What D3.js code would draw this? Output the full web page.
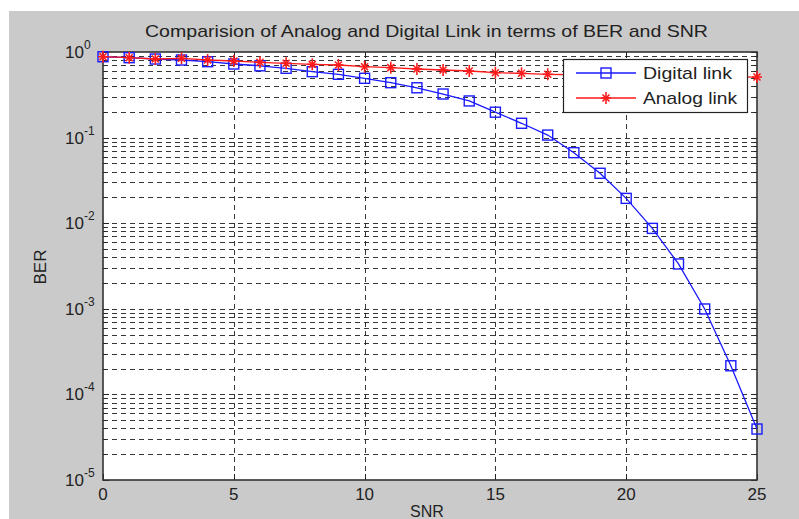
<!DOCTYPE html>
<html>
<head>
<meta charset="utf-8">
<script src="https://cdn.jsdelivr.net/npm/d3@7"></script>
<style>
  html, body { margin: 0; padding: 0; background: #ffffff; }
  svg { display: block; font-family: "Liberation Sans", Arial, Helvetica, sans-serif; }
</style>
</head>
<body>
<svg id="chart" width="799" height="519"></svg>
<script>
// SNR values on the x axis
const snr = d3.range(0, 26);

// Bit error rate for the digital link
const digitalBER = [0.88, 0.858, 0.828, 0.806, 0.77, 0.724, 0.69, 0.645, 0.589, 0.549,
  0.493, 0.438, 0.382, 0.323, 0.268, 0.198, 0.147, 0.107, 0.0667, 0.0383,
  0.0195, 0.0087, 0.00334, 0.000995, 0.000216, 0.0000394];

// Bit error rate for the analog link
const analogBER = [0.881, 0.858, 0.828, 0.844, 0.806, 0.785, 0.758, 0.738, 0.718, 0.705,
  0.673, 0.656, 0.633, 0.616, 0.600, 0.573, 0.564, 0.549, 0.542, 0.536,
  0.530, 0.525, 0.520, 0.516, 0.513, 0.51];

const xTicks = [0, 5, 10, 15, 20, 25];
const yExponents = [0, -1, -2, -3, -4, -5];
const seriesNames = ["Digital link", "Analog link"];

const titleText = "Comparision of Analog and Digital Link in terms of BER and SNR";

const svg = d3.select("#chart");

// figure background
svg.append("rect").attr("x", 9).attr("y", 11).attr("width", 790).attr("height", 508)
  .attr("fill", "#cacaca");

const plot = { left: 103, right: 757, top: 52, bottom: 480 };

const x = d3.scaleLinear().domain([0, 25]).range([plot.left, plot.right]);
const y = d3.scaleLog().domain([1e-5, 1]).range([plot.bottom, plot.top]);

// axes area
svg.append("rect")
  .attr("x", plot.left).attr("y", plot.top)
  .attr("width", plot.right - plot.left).attr("height", plot.bottom - plot.top)
  .attr("fill", "#ffffff");

const gridColor = "#222222";
const dash = "5,4";

// horizontal grid: major and minor decades
const yGridVals = [];
for (let e = -5; e < 0; e++) {
  for (let m = 1; m <= 9; m++) yGridVals.push(m * Math.pow(10, e));
}
yGridVals.push(1);

const grid = svg.append("g");
grid.selectAll("line.h").data(yGridVals.filter(v => v > 1e-5 && v < 1)).join("line")
  .attr("class", "h")
  .attr("x1", plot.left).attr("x2", plot.right)
  .attr("y1", d => Math.round(y(d)) + 0.5).attr("y2", d => Math.round(y(d)) + 0.5)
  .attr("stroke", gridColor).attr("stroke-width", 1).attr("stroke-dasharray", dash)
  .attr("opacity", 0.9);

// vertical grid at the major x ticks
grid.selectAll("line.v").data(xTicks.filter(t => t > 0 && t < 25)).join("line")
  .attr("class", "v")
  .attr("x1", d => Math.round(x(d)) + 0.5).attr("x2", d => Math.round(x(d)) + 0.5)
  .attr("y1", plot.top).attr("y2", plot.bottom)
  .attr("stroke", gridColor).attr("stroke-width", 1).attr("stroke-dasharray", dash)
  .attr("opacity", 0.9);

// inner tick marks on all four sides
const ticks = svg.append("g").attr("stroke", "#222").attr("stroke-width", 1);
xTicks.forEach(t => {
  const px = Math.round(x(t)) + 0.5;
  ticks.append("line").attr("x1", px).attr("x2", px).attr("y1", plot.bottom).attr("y2", plot.bottom - 6);
  ticks.append("line").attr("x1", px).attr("x2", px).attr("y1", plot.top).attr("y2", plot.top + 6);
});
yGridVals.forEach(v => {
  const py = Math.round(y(v)) + 0.5;
  const major = Math.abs(Math.log10(v) - Math.round(Math.log10(v))) < 1e-9;
  const len = major ? 6 : 3;
  ticks.append("line").attr("x1", plot.left).attr("x2", plot.left + len).attr("y1", py).attr("y2", py);
  ticks.append("line").attr("x1", plot.right).attr("x2", plot.right - len).attr("y1", py).attr("y2", py);
});

// axes frame
svg.append("rect")
  .attr("x", plot.left).attr("y", plot.top)
  .attr("width", plot.right - plot.left).attr("height", plot.bottom - plot.top)
  .attr("fill", "none").attr("stroke", "#333").attr("stroke-width", 1.6);

// x tick labels
svg.append("g").selectAll("text").data(xTicks).join("text")
  .attr("x", d => x(d)).attr("y", 500)
  .attr("text-anchor", "middle").attr("font-size", 17).attr("fill", "#222")
  .text(d => d);

// y tick labels as powers of ten
const yLab = svg.append("g").attr("fill", "#222");
yExponents.forEach(e => {
  const py = y(Math.pow(10, e));
  yLab.append("text").attr("x", 84).attr("y", py + 6).attr("font-size", 17)
    .attr("text-anchor", "end").text("10");
  yLab.append("text").attr("x", 84).attr("y", py - 3)
    .attr("font-size", 12).text(String(e));
});

// axis titles
svg.append("text").attr("x", 427).attr("y", 517).attr("text-anchor", "middle")
  .attr("font-size", 16).attr("fill", "#222").text("SNR");
svg.append("text").attr("transform", "translate(46,267) rotate(-90)")
  .attr("text-anchor", "middle").attr("font-size", 17).attr("fill", "#222").text("BER");

// chart title
svg.append("text").attr("x", 145).attr("y", 37)
  .attr("font-size", 17).attr("fill", "#222")
  .attr("textLength", 563).attr("lengthAdjust", "spacingAndGlyphs")
  .text(titleText);

// series lines and markers
const blue = "#1a1aff";
const red = "#ff1a1a";
const line = d3.line().x((d, i) => x(snr[i])).y(d => y(d));

const series = svg.append("g");

function drawSquare(g, cx, cy, color) {
  g.append("rect").attr("x", cx - 5).attr("y", cy - 5).attr("width", 10).attr("height", 10)
    .attr("fill", "none").attr("stroke", color).attr("stroke-width", 1.4);
}
function drawStar(g, cx, cy, color) {
  const r = 5;
  const s = g.append("g").attr("stroke", color).attr("stroke-width", 1.6);
  s.append("line").attr("x1", cx).attr("x2", cx).attr("y1", cy - r - 1).attr("y2", cy + r + 1);
  s.append("line").attr("x1", cx - r).attr("x2", cx + r).attr("y1", cy).attr("y2", cy);
  s.append("line").attr("x1", cx - r * 0.7).attr("x2", cx + r * 0.7).attr("y1", cy - r * 0.7).attr("y2", cy + r * 0.7);
  s.append("line").attr("x1", cx - r * 0.7).attr("x2", cx + r * 0.7).attr("y1", cy + r * 0.7).attr("y2", cy - r * 0.7);
}

series.append("path").datum(digitalBER).attr("d", line)
  .attr("fill", "none").attr("stroke", blue).attr("stroke-width", 1.3);
digitalBER.forEach((v, i) => drawSquare(series, x(snr[i]), y(v), blue));

series.append("path").datum(analogBER).attr("d", line)
  .attr("fill", "none").attr("stroke", red).attr("stroke-width", 1.3);
analogBER.forEach((v, i) => drawStar(series, x(snr[i]), y(v), red));

// legend
const legend = svg.append("g");
legend.append("rect").attr("x", 563.5).attr("y", 59.5).attr("width", 184).attr("height", 53)
  .attr("fill", "#ffffff").attr("stroke", "#222").attr("stroke-width", 1.2);
const legendRows = [
  { name: seriesNames[0], color: blue, marker: drawSquare, y: 73, w: 89 },
  { name: seriesNames[1], color: red, marker: drawStar, y: 98, w: 94 }
];
legendRows.forEach(r => {
  legend.append("line").attr("x1", 576).attr("x2", 636).attr("y1", r.y).attr("y2", r.y)
    .attr("stroke", r.color).attr("stroke-width", 1.3);
  r.marker(legend, 606, r.y, r.color);
  legend.append("text").attr("x", 643).attr("y", r.y + 6).attr("font-size", 17)
    .attr("fill", "#222").attr("textLength", r.w).attr("lengthAdjust", "spacingAndGlyphs")
    .text(r.name);
});
</script>
</body>
</html>
